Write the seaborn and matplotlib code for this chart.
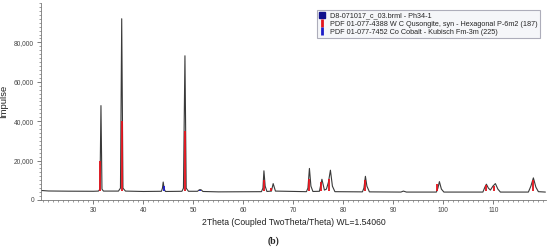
import matplotlib
matplotlib.use("Agg")
import matplotlib.pyplot as plt
from matplotlib.lines import Line2D
from matplotlib.ticker import MultipleLocator, FuncFormatter
import seaborn as sns

two_theta = [19.6, 21.0, 25.0, 30.0, 31.0, 31.3, 31.5, 31.7, 32.0,
             35.0, 35.4, 35.65, 35.9, 36.4, 40.0, 43.6, 43.8, 43.95, 44.15, 44.4,
             47.7, 48.0, 48.3, 48.55, 49.0, 50.8, 51.2, 51.5, 51.9, 55.0,
             63.6, 63.9, 64.1, 64.35, 64.7, 65.6, 65.95, 66.4,
             72.6, 72.9, 73.2, 73.5, 73.9, 75.2, 75.7, 76.2, 76.6, 77.0, 77.4, 77.8, 78.3,
             83.8, 84.1, 84.4, 84.7, 85.2, 91.5, 92.0, 92.6,
             98.6, 98.9, 99.2, 99.6, 100.1, 107.9, 108.3, 108.6, 109.0, 109.4,
             109.9, 110.4, 110.9, 111.4, 117.0, 117.5, 118.0, 118.5, 119.0, 120.4]
impulse = [4800, 4550, 4450, 4400, 4500, 5500, 47900, 5500, 4500,
           4500, 6000, 92000, 6000, 4500, 4300, 4400, 6000, 9100, 5500, 4300,
           4400, 6000, 73200, 6000, 4400, 4400, 5200, 5200, 4300, 4100,
           4200, 6000, 14800, 7000, 4300, 4500, 8300, 4500,
           4200, 6000, 16000, 7000, 4300, 4400, 10500, 5000, 5500, 9000, 15100, 7000, 4200,
           4100, 6000, 12000, 7000, 4100, 4000, 4500, 4000,
           4000, 6000, 9300, 5500, 4000, 4000, 6500, 8000, 6000, 5000,
           7000, 8300, 5500, 4000, 4000, 7000, 11200, 6500, 4200, 4000]

# reference sticks
wc_pos = [31.4, 35.62, 48.25, 64.05, 65.6, 73.15, 75.6, 77.05, 84.3, 98.8, 108.5, 110.1, 117.85]
wc_int = [19900, 39900, 35100, 10300, 6250, 10800, 9300, 10500, 10000, 7950, 7400, 6900, 10300]
co_pos = [44.2, 51.4, 92.0]
co_int = [6900, 5200, 4600]
stick_base = 4300

y_ticks = [0, 20000, 40000, 60000, 80000]
x_ticks = [30, 40, 50, 60, 70, 80, 90, 100, 110]

legend_labels = ["D8-071017_c_03.brml - Ph34-1",
                 "PDF 01-077-4388 W C Qusongite, syn - Hexagonal P-6m2 (187)",
                 "PDF 01-077-7452 Co Cobalt - Kubisch Fm-3m (225)"]

sns.set_style("ticks")
plt.rcParams['font.family'] = ['Liberation Sans', 'DejaVu Sans']

fig = plt.figure(figsize=(5.5, 2.49), dpi=100)
ax = fig.add_axes([0.0745, 0.197, 0.918, 0.791])

sns.lineplot(x=two_theta, y=impulse, ax=ax, color="#3a3a3a", lw=0.8, sort=False, estimator=None)
ax.vlines(wc_pos, stick_base, wc_int, color="#e3121b", lw=1.3, zorder=3)
ax.vlines(co_pos, stick_base, co_int, color="#1c1cc8", lw=1.3, zorder=3)

ax.set_xlim(19.5, 120.5)
ax.set_ylim(0, 100000)
ax.set_xticks(x_ticks)
ax.set_yticks(y_ticks)
ax.xaxis.set_minor_locator(MultipleLocator(1))
ax.yaxis.set_minor_locator(MultipleLocator(2000))
ax.yaxis.set_major_formatter(FuncFormatter(lambda v, p: f"{int(v):,}"))

ax.tick_params(axis="both", which="major", labelsize=4.8, length=3, width=0.6,
               color="#666666", labelcolor="#444444", pad=2)
ax.tick_params(axis="both", which="minor", length=1.6, width=0.5, color="#777777")

sns.despine(ax=ax)
for s in ["left", "bottom"]:
    ax.spines[s].set_color("#777777")
    ax.spines[s].set_linewidth(0.6)

ax.set_xlabel("2Theta (Coupled TwoTheta/Theta) WL=1.54060", fontsize=6.2, color="#222222", labelpad=3)
ax.set_ylabel("Impulse", fontsize=6.8, color="#222222")
ax.yaxis.set_label_coords(-0.065, 0.5)

handles = [Line2D([], [], ls="none", marker="s", ms=4, color="#10108c"),
           Line2D([], [], ls="none", marker="|", ms=6, mew=2, color="#e3121b"),
           Line2D([], [], ls="none", marker="|", ms=6, mew=2, color="#1c1cc8")]
leg = ax.legend(handles, legend_labels, loc="upper right", bbox_to_anchor=(0.988, 0.964),
                borderaxespad=0, fontsize=5.2, frameon=True, fancybox=False,
                handlelength=0.8, handletextpad=0.6, labelspacing=0.15, borderpad=0.35)
leg.get_frame().set_facecolor("#f3f4f8")
leg.get_frame().set_edgecolor("#9a9aaa")
leg.get_frame().set_linewidth(0.8)

fig.text(273 / 550, 1 - 241 / 249, "(b)", fontsize=7, fontfamily="Liberation Serif",
         ha="center", va="center", fontweight="bold")

fig.savefig("out.png", dpi=100)
